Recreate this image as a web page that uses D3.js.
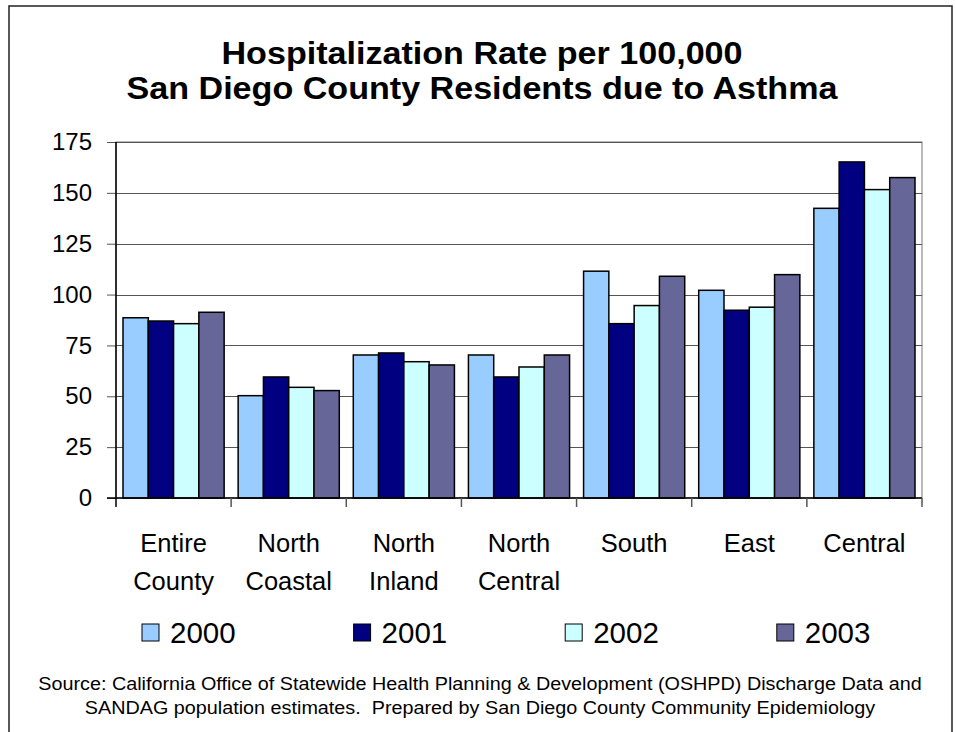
<!DOCTYPE html>
<html>
<head>
<meta charset="utf-8">
<script src="https://cdn.jsdelivr.net/npm/d3@7"></script>
<style>
  body { margin: 0; background: #fff; }
  text { font-family: "Liberation Sans", Arial, sans-serif; fill: #000; }
</style>
</head>
<body>
<svg id="chart" width="956" height="732"></svg>
<script>
// data
var regions = ["Entire County", "North Coastal", "North Inland", "North Central", "South", "East", "Central"];
var years = ["2000", "2001", "2002", "2003"];
var rate2000 = [88.6, 50.3, 70.3, 70.3, 111.5, 102.1, 142.4];
var rate2001 = [87.0, 59.5, 71.3, 59.5, 85.7, 92.3, 165.2];
var rate2002 = [85.7, 54.4, 67.0, 64.4, 94.6, 93.8, 151.6];
var rate2003 = [91.3, 52.8, 65.4, 70.3, 109.0, 109.8, 157.5];
var yTicks = [0, 25, 50, 75, 100, 125, 150, 175];
var colors = ["#99ccff", "#000080", "#ccffff", "#666699"];
var titleLines = ["Hospitalization Rate per 100,000", "San Diego County Residents due to Asthma"];
var sourceLines = ["Source: California Office of Statewide Health Planning & Development (OSHPD) Discharge Data and",
                   "SANDAG population estimates.  Prepared by San Diego County Community Epidemiology"];

var series = [rate2000, rate2001, rate2002, rate2003];

var svg = d3.select("#chart");
var plot = {left: 116, right: 922, top: 142, bottom: 498};

// outer frame (bottom edge runs off the page)
svg.append("rect").attr("x", 9).attr("y", 6).attr("width", 943).attr("height", 760)
    .attr("fill", "#fff").attr("stroke", "#222").attr("stroke-width", 1.5);

// title - the original text is a bit wider than Arial, so stretch it sideways
svg.selectAll(".title").data(titleLines).enter().append("text")
    .attr("class", "title")
    .attr("transform", function (d, i) { return "translate(482," + (64 + i * 35) + ") scale(1.1,1)"; })
    .attr("text-anchor", "middle")
    .attr("font-size", "31px").attr("font-weight", "bold")
    .text(function (d) { return d; });

var x0 = d3.scaleBand().domain(regions).range([plot.left, plot.right]);
var x1 = d3.scaleBand().domain(years).range([7, x0.bandwidth() - 7]);
var y = d3.scaleLinear().domain([0, 175]).range([plot.bottom, plot.top]);

// plot area + gridlines
svg.append("rect").attr("x", plot.left).attr("y", plot.top)
    .attr("width", plot.right - plot.left).attr("height", plot.bottom - plot.top)
    .attr("fill", "#fff").attr("stroke", "#777").attr("stroke-width", 1);

svg.selectAll(".grid").data(yTicks.slice(1)).enter().append("line")
    .attr("class", "grid")
    .attr("x1", plot.left).attr("x2", plot.right)
    .attr("y1", function (d) { return Math.round(y(d)) + 0.5; })
    .attr("y2", function (d) { return Math.round(y(d)) + 0.5; })
    .attr("stroke", "#555").attr("stroke-width", 1);

// bars
var groups = svg.selectAll(".group").data(regions).enter().append("g")
    .attr("class", "group")
    .attr("transform", function (d) { return "translate(" + x0(d) + ",0)"; });

groups.selectAll("rect").data(function (d, i) {
    return years.map(function (yr, j) { return {year: yr, value: series[j][i], k: j}; });
}).enter().append("rect")
    .attr("x", function (d) { return x1(d.year); })
    .attr("y", function (d) { return y(d.value); })
    .attr("width", x1.bandwidth())
    .attr("height", function (d) { return y(0) - y(d.value); })
    .attr("fill", function (d) { return colors[d.k]; })
    .attr("stroke", "#000").attr("stroke-width", 1.5);

// y axis
var yAxis = svg.append("g").attr("transform", "translate(" + plot.left + ",0)")
    .call(d3.axisLeft(y).tickValues(yTicks).tickSize(9).tickPadding(15));
yAxis.select(".domain").remove();
yAxis.selectAll(".tick line").attr("stroke", "#555");
yAxis.selectAll(".tick text").attr("font-size", "24px").attr("font-family", "Liberation Sans, Arial, sans-serif").attr("fill", "#000");

svg.append("line").attr("x1", plot.left).attr("x2", plot.left)
    .attr("y1", plot.top).attr("y2", plot.bottom + 9)
    .attr("stroke", "#000").attr("stroke-width", 1.5);
svg.append("line").attr("x1", plot.left - 9).attr("x2", plot.right)
    .attr("y1", plot.bottom).attr("y2", plot.bottom)
    .attr("stroke", "#000").attr("stroke-width", 1.5);

// category boundary ticks
var bounds = regions.map(function (d) { return x0(d); }).concat([plot.right]);
svg.selectAll(".xtick").data(bounds.slice(1)).enter().append("line")
    .attr("class", "xtick")
    .attr("x1", function (d) { return d; }).attr("x2", function (d) { return d; })
    .attr("y1", plot.bottom).attr("y2", plot.bottom + 9)
    .attr("stroke", "#555").attr("stroke-width", 1.5);

// category labels, two lines each
svg.selectAll(".xlab").data(regions).enter().append("text")
    .attr("class", "xlab")
    .attr("text-anchor", "middle").attr("font-size", "25.5px")
    .each(function (d) {
        var words = d.split(" ");
        var t = d3.select(this);
        words.forEach(function (w, i) {
            t.append("tspan").attr("x", x0(d) + x0.bandwidth() / 2)
                .attr("y", 552 + i * 38).text(w);
        });
    });

// legend
var legend = svg.selectAll(".leg").data(years).enter().append("g")
    .attr("class", "leg")
    .attr("transform", function (d, i) { return "translate(" + (142 + i * 211.6) + ",624)"; });
legend.append("rect").attr("width", 17).attr("height", 17)
    .attr("fill", function (d, i) { return colors[i]; })
    .attr("stroke", "#000").attr("stroke-width", 1);
legend.append("text").attr("x", 28).attr("y", 18.5)
    .attr("font-size", "29.5px").text(function (d) { return d; });

// source note
svg.selectAll(".src").data(sourceLines).enter().append("text")
    .attr("class", "src")
    .attr("transform", function (d, i) { return "translate(480," + (690 + i * 23.5) + ") scale(1.07,1)"; })
    .attr("text-anchor", "middle").attr("font-size", "18.5px")
    .style("white-space", "pre")
    .text(function (d) { return d; });
</script>
</body>
</html>
